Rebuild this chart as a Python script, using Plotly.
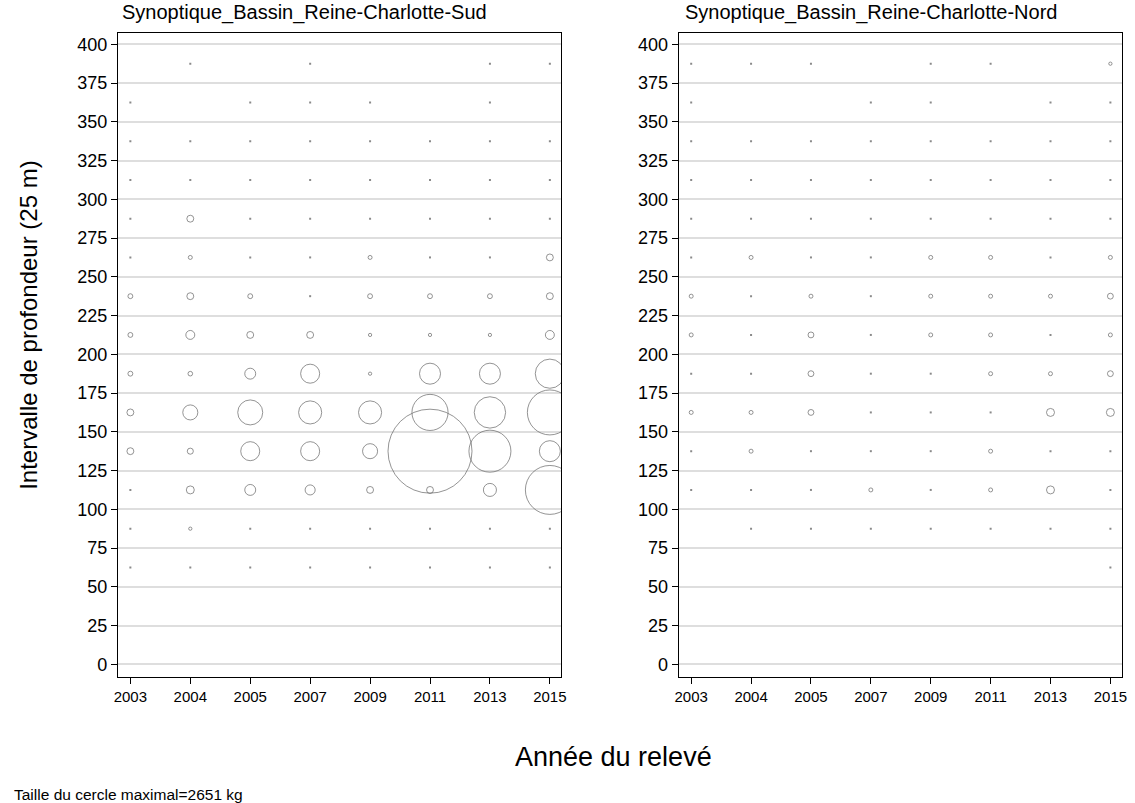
import plotly.graph_objects as go

# ---- data ----
years = ["2003", "2004", "2005", "2007", "2009", "2011", "2013", "2015"]
depths = [387.5, 362.5, 337.5, 312.5, 287.5, 262.5, 237.5, 212.5,
          187.5, 162.5, 137.5, 112.5, 87.5, 62.5]
N = None
# catch (kg) per depth row (rows follow `depths`), columns follow `years`; None = no tow
sud = [
    [N, 0, N, 0, N, N, 0, 0],
    [0, N, 0, 0, 0, N, 0, N],
    [0, 0, 0, 0, 0, 0, 0, 0],
    [0, 0, 0, 0, 0, 0, 0, 0],
    [0, 18, 0, 0, 0, 0, 0, 0],
    [0, 6, 0, 0, 6, 0, 0, 18],
    [9, 18, 9, 0, 9, 9, 9, 18],
    [9, 30, 18, 18, 4, 4, 4, 30],
    [9, 8, 45, 136, 4, 166, 166, 320],
    [18, 85, 235, 200, 200, 490, 370, 760],
    [18, 14, 136, 136, 85, 2651, 663, 166],
    [0, 24, 45, 38, 18, 18, 64, 900],
    [0, 4, 0, 0, 0, 0, 0, 0],
    [0, 0, 0, 0, 0, 0, 0, 0],
]
nord = [
    [0, 0, 0, N, 0, 0, N, 4],
    [0, N, N, 0, 0, N, 0, 0],
    [0, 0, 0, 0, 0, 0, 0, 0],
    [0, 0, 0, 0, 0, 0, 0, 0],
    [0, 0, 0, 0, 0, 0, 0, 0],
    [0, 6, 0, 0, 6, 6, 0, 6],
    [6, 0, 6, 0, 6, 6, 6, 13],
    [6, 0, 13, 0, 6, 6, 0, 6],
    [0, 0, 13, 0, 0, 6, 6, 13],
    [6, 6, 13, 0, 0, 0, 24, 24],
    [0, 6, 0, 0, 0, 6, 0, 0],
    [0, 0, 0, 6, 0, 6, 24, 0],
    [N, 0, 0, 0, 0, 0, 0, 0],
    [N, N, N, N, N, N, N, 0],
]
titles = ["Synoptique_Bassin_Reine-Charlotte-Sud", "Synoptique_Bassin_Reine-Charlotte-Nord"]
max_kg = 2651
y_ticks = list(range(0, 401, 25))

# ---- figure ----
W, H = 1135, 803
FONT = "Arial, Liberation Sans, sans-serif"
max_diam = 84
sizeref = 2.0 * max_kg / max_diam ** 2
MARK = "#666666"

fig = go.Figure()

def flatten(grid, positive):
    xs, ys, vs = [], [], []
    for d, row in zip(depths, grid):
        for i, v in enumerate(row):
            if v is None:
                continue
            if (v > 0) == positive:
                xs.append(i)
                ys.append(d)
                vs.append(v)
    return xs, ys, vs

panels = [(sud, "x", "y"), (nord, "x2", "y2")]
for grid, xa, ya in panels:
    # zero-catch tows: tiny dots
    xs, ys, vs = flatten(grid, False)
    fig.add_trace(go.Scatter(
        x=xs, y=ys, mode="markers", xaxis=xa, yaxis=ya, showlegend=False,
        hoverinfo="skip",
        marker=dict(size=2, symbol="square", color="#8a8a8a", line=dict(width=0)),
    ))
    xs, ys, vs = flatten(grid, True)
    fig.add_trace(go.Scatter(
        x=xs, y=ys, mode="markers", xaxis=xa, yaxis=ya, showlegend=False,
        hoverinfo="skip",
        marker=dict(size=vs, sizemode="area", sizeref=sizeref, sizemin=1.5,
                    symbol="circle-open", color=MARK,
                    line=dict(width=1, color=MARK)),
    ))

px = lambda p: p / W
py = lambda p: 1 - p / H
x_domains = [[px(114.7), px(561.7)], [px(680), px(1126.7)]]
y_domain = [py(676.7), py(33)]

xcommon = dict(range=[-0.21, 7.19], tickmode="array", tickvals=list(range(len(years))),
               ticktext=years, showgrid=False, zeroline=False, showline=True,
               linecolor="black", linewidth=1, mirror=True, ticks="outside",
               ticklen=6, tickcolor="black", tickfont=dict(size=15, color="black", family=FONT))
ycommon = dict(range=[-8, 407.3], tickmode="array", tickvals=y_ticks,
               showgrid=True, gridcolor="#dedede", gridwidth=2, zeroline=False,
               showline=True, linecolor="black", linewidth=1, mirror=True,
               ticks="outside", ticklen=6, tickcolor="black",
               tickfont=dict(size=18, color="black", family=FONT))

fig.update_layout(
    width=W, height=H, autosize=False,
    margin=dict(l=0, r=0, t=0, b=0),
    paper_bgcolor="white", plot_bgcolor="white",
    font=dict(family=FONT, color="black"),
    xaxis=dict(domain=x_domains[0], anchor="y", **xcommon),
    yaxis=dict(domain=y_domain, anchor="x", **ycommon),
    xaxis2=dict(domain=x_domains[1], anchor="y2", **xcommon),
    yaxis2=dict(domain=y_domain, anchor="x2", **ycommon),
)

annotations = [
    dict(text=titles[0], x=px(117), y=py(13), xanchor="left", yanchor="middle",
         showarrow=False, font=dict(size=20)),
    dict(text=titles[1], x=px(684), y=py(13), xanchor="left", yanchor="middle",
         showarrow=False, font=dict(size=20)),
    dict(text="Intervalle de profondeur (25 m)", x=px(24), y=py(325), textangle=-90,
         xanchor="center", yanchor="middle", showarrow=False, font=dict(size=24)),
    dict(text="Année du relevé", x=px(614), y=py(757), xanchor="center", yanchor="middle",
         showarrow=False, font=dict(size=27)),
    dict(text="Taille du cercle maximal=2651 kg", x=px(8), y=py(794), xanchor="left",
         yanchor="middle", showarrow=False, font=dict(size=15.5)),
]
for a in annotations:
    a.update(xref="paper", yref="paper")
fig.update_layout(annotations=annotations)

fig.write_html("out.html", config={"displayModeBar": False},
               post_script="document.body.style.margin='0';document.body.style.overflow='hidden';")
